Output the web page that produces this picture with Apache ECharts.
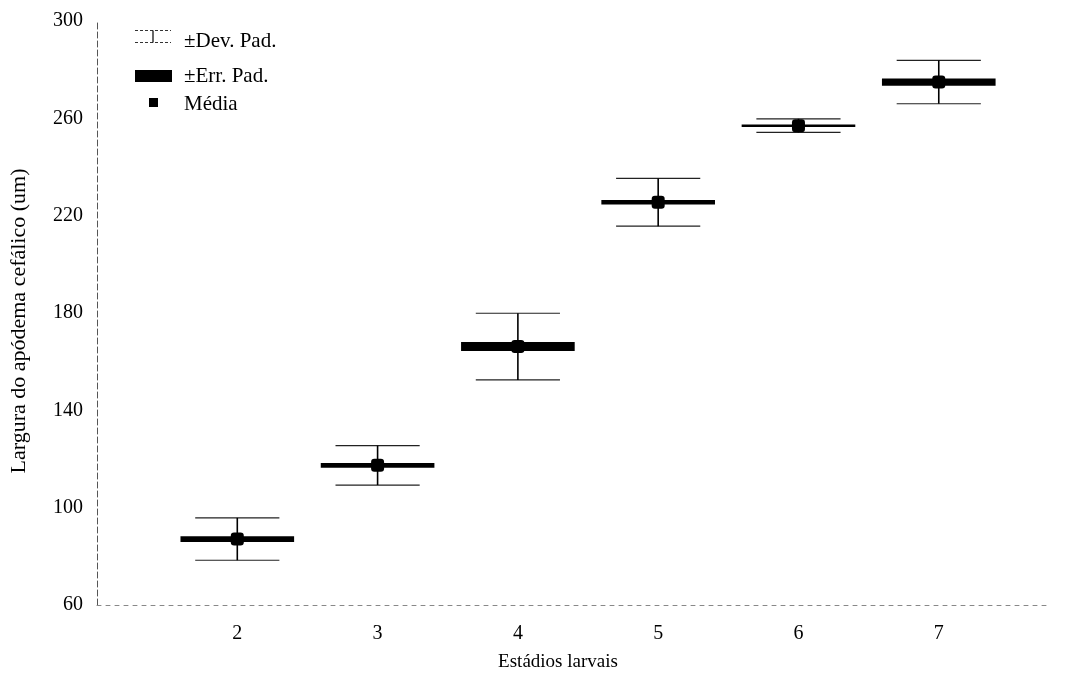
<!DOCTYPE html>
<html>
<head>
<meta charset="utf-8">
<script src="https://cdn.jsdelivr.net/npm/echarts@6/dist/echarts.min.js"></script>
<style>
html,body{margin:0;padding:0;background:#fff;}
#chart{width:1067px;height:677px;}
</style>
</head>
<body>
<div id="chart"></div>
<script>
// ---- data ----
const stages = [2, 3, 4, 5, 6, 7];
const means = [87.1, 117.4, 166.2, 225.5, 257.0, 274.9];
const stdErr = [1.2, 1.0, 1.85, 0.9, 0.4, 1.5];
const stdDev = [8.7, 8.1, 13.7, 9.8, 2.8, 8.9];
const yTicks = [60, 100, 140, 180, 220, 260, 300];
const xTickLabels = ['2', '3', '4', '5', '6', '7'];

const FONT = 'Liberation Serif';
const rows = stages.map((s, i) => [s, means[i], stdErr[i], stdDev[i]]);

const chart = echarts.init(document.getElementById('chart'), null, {renderer: 'canvas'});

function whiskerItem(params, api) {
  const x = api.value(0), m = api.value(1), sd = api.value(3);
  const top = api.coord([x, m + sd]);
  const bot = api.coord([x, m - sd]);
  const hw = api.size([0.3, 0])[0];
  return {
    type: 'group',
    children: [
      {type: 'line', shape: {x1: top[0] - hw, y1: top[1], x2: top[0] + hw, y2: top[1]}, style: {stroke: '#222', lineWidth: 1.2}},
      {type: 'line', shape: {x1: bot[0] - hw, y1: bot[1], x2: bot[0] + hw, y2: bot[1]}, style: {stroke: '#222', lineWidth: 1.2}},
      {type: 'line', shape: {x1: top[0], y1: top[1], x2: bot[0], y2: bot[1]}, style: {stroke: '#000', lineWidth: 1.6}}
    ]
  };
}

function boxItem(params, api) {
  const x = api.value(0), m = api.value(1), se = api.value(2);
  const hi = api.coord([x, m + se]);
  const lo = api.coord([x, m - se]);
  const hw = api.size([0.405, 0])[0];
  let h = lo[1] - hi[1];
  let y = hi[1];
  if (h < 2.5) { y = (hi[1] + lo[1]) / 2 - 1.25; h = 2.5; }
  return {
    type: 'rect',
    shape: {x: hi[0] - hw, y: y, width: hw * 2, height: h},
    style: {fill: '#000'}
  };
}

const option = {
  backgroundColor: '#fff',
  animation: false,
  textStyle: {fontFamily: FONT, color: '#000'},
  grid: {left: 97, right: 16, top: 21, bottom: 71, containLabel: false},
  xAxis: {
    type: 'value',
    min: 1, max: 7.8, interval: 1,
    name: 'Estádios larvais',
    nameLocation: 'middle',
    nameGap: 48,
    nameTextStyle: {fontFamily: FONT, fontSize: 19, color: '#000', padding: [0, 32, 0, 0]},
    axisLine: {show: true, lineStyle: {color: '#888', width: 1, type: [4, 5]}},
    axisTick: {show: false},
    splitLine: {show: false},
    axisLabel: {
      fontFamily: FONT, fontSize: 20, color: '#000', margin: 19,
      formatter: v => {
        const idx = stages.indexOf(Math.round(v * 100) / 100);
        return idx >= 0 ? xTickLabels[idx] : '';
      }
    }
  },
  yAxis: {
    type: 'value',
    min: 60, max: 300, interval: 20,
    name: 'Largura do apódema cefálico (um)',
    nameLocation: 'middle',
    nameGap: 67,
    nameRotate: 90,
    nameTextStyle: {fontFamily: FONT, fontSize: 22, color: '#000', padding: [0, 16, 0, 0]},
    axisLine: {show: true, lineStyle: {color: '#555', width: 1, type: [6, 3]}},
    axisTick: {show: false},
    splitLine: {show: false},
    axisLabel: {
      fontFamily: FONT, fontSize: 20, color: '#000', margin: 14,
      formatter: v => yTicks.includes(Math.round(v)) ? String(Math.round(v)) : ''
    }
  },
  series: [
    {
      name: '±Dev. Pad.', type: 'custom', renderItem: whiskerItem,
      encode: {x: 0, y: 1}, data: rows, z: 2
    },
    {
      name: '±Err. Pad.', type: 'custom', renderItem: boxItem,
      encode: {x: 0, y: 1}, data: rows, z: 3
    },
    {
      name: 'Média', type: 'scatter', symbol: 'roundRect', symbolSize: 13,
      itemStyle: {color: '#000', opacity: 1},
      data: stages.map((s, i) => [s, means[i]]), z: 4
    }
  ],
  graphic: [
    {type: 'line', shape: {x1: 135, y1: 30.5, x2: 171, y2: 30.5}, style: {stroke: '#333', lineWidth: 1, lineDash: [3, 2]}},
    {type: 'line', shape: {x1: 135, y1: 42.5, x2: 171, y2: 42.5}, style: {stroke: '#333', lineWidth: 1, lineDash: [3, 2]}},
    {type: 'line', shape: {x1: 153, y1: 30.5, x2: 153, y2: 42.5}, style: {stroke: '#000', lineWidth: 1.2}},
    {type: 'text', x: 184, y: 41, style: {text: '±Dev. Pad.', font: '21px "Liberation Serif"', fill: '#000', textVerticalAlign: 'middle'}},
    {type: 'rect', shape: {x: 135, y: 70, width: 37, height: 12}, style: {fill: '#000'}},
    {type: 'text', x: 184, y: 76, style: {text: '±Err. Pad.', font: '21px "Liberation Serif"', fill: '#000', textVerticalAlign: 'middle'}},
    {type: 'rect', shape: {x: 149, y: 98, width: 9, height: 9}, style: {fill: '#000'}},
    {type: 'text', x: 184, y: 104, style: {text: 'Média', font: '21px "Liberation Serif"', fill: '#000', textVerticalAlign: 'middle'}}
  ]
};
chart.setOption(option);
</script>
</body>
</html>
